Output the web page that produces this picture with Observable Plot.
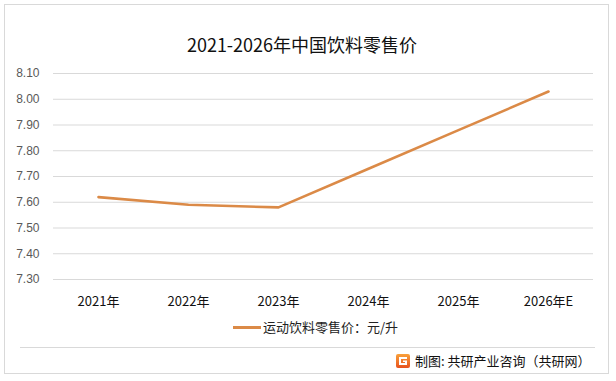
<!DOCTYPE html>
<html>
<head>
<meta charset="utf-8">
<script src="https://cdn.jsdelivr.net/npm/d3@7"></script>
<script src="https://cdn.jsdelivr.net/npm/@observablehq/plot@0.6"></script>
<style>
  html, body { margin: 0; padding: 0; background: #fff; }
  #wrap { position: relative; width: 616px; height: 381px; overflow: hidden; background: #fff;
          font-family: "Noto Sans CJK SC", "Liberation Sans", sans-serif; }
  #border { position: absolute; left: 4px; top: 4px; width: 605px; height: 370px; border: 1px solid #d9d9d9; box-sizing: border-box; }
  #title { position: absolute; left: 0; width: 604px; top: 31px; text-align: center; font-size: 18px; color: #111; line-height: 26px; }
  #chart { position: absolute; left: 0; top: 0; }
  #legend { position: absolute; left: 233px; top: 316px; font-size: 13px; color: #222; line-height: 22px; display: flex; align-items: center; }
  #legend .sw { width: 28px; height: 3px; background: #DB8A47; margin-right: 2px; }
  #sep { position: absolute; left: 20px; top: 347px; width: 575px; height: 1px; background: #d9d9d9; }
  #footer { position: absolute; left: 396px; top: 351px; font-size: 13px; color: #111; line-height: 20px; display: flex; align-items: center; }
  #footer svg { margin-right: 5px; }
</style>
</head>
<body>
<div id="wrap">
  <div id="border"></div>
  <div id="title">2021-2026年中国饮料零售价</div>
  <div id="chart"></div>
  <div id="legend"><div class="sw"></div><div>运动饮料零售价：元/升</div></div>
  <div id="sep"></div>
  <div id="footer">
    <svg width="14" height="14" viewBox="0 0 14 14">
      <defs><linearGradient id="lg" x1="0" y1="0" x2="0" y2="1"><stop offset="0" stop-color="#F9A13A"/><stop offset="1" stop-color="#E8521E"/></linearGradient></defs>
      <rect x="0" y="0" width="14" height="14" rx="2" fill="url(#lg)"/>
      <path d="M3 3 H11 V5 H5 V9 H9 V8 H7 V6.5 H11 V11 H3 Z" fill="#fff"/>
    </svg>
    <span>制图: 共研产业咨询（共研网）</span>
  </div>
</div>
<script>
const years = ["2021年", "2022年", "2023年", "2024年", "2025年", "2026年E"];
const prices = [7.62, 7.59, 7.58, 7.73, 7.88, 8.03];
const yTicks = [7.30, 7.40, 7.50, 7.60, 7.70, 7.80, 7.90, 8.00, 8.10];
const seriesName = "运动饮料零售价：元/升";

const data = years.map((y, i) => ({year: y, price: prices[i]}));

const chart = Plot.plot({
  width: 616,
  height: 319,
  marginLeft: 53,
  marginRight: 23,
  marginTop: 73,
  marginBottom: 40,
  style: {background: "transparent", fontFamily: "'Liberation Sans', 'Noto Sans CJK SC', sans-serif", overflow: "visible"},
  x: {type: "point", domain: years, padding: 0.5, label: null},
  y: {domain: [7.30, 8.10], label: null},
  marks: [
    Plot.ruleY(yTicks, {stroke: "#d9d9d9", strokeWidth: 1}),
    Plot.axisY({ticks: yTicks, tickFormat: d => d.toFixed(2), tickSize: 0, tickPadding: 14, fontSize: 12, color: "#595959", label: null}),
    Plot.axisX({tickSize: 0, tickPadding: 17, fontSize: 13, color: "#111", fontFamily: "'Noto Sans CJK SC', sans-serif", label: null}),
    Plot.line(data, {x: "year", y: "price", stroke: "#DB8A47", strokeWidth: 2.6, strokeLinejoin: "round", strokeLinecap: "round"})
  ]
});
document.getElementById("chart").appendChild(chart);
</script>
</body>
</html>
